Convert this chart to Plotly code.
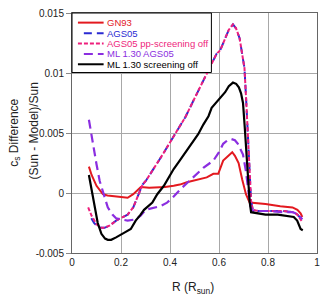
import plotly.graph_objects as go

# ---- data ----
gn93_r = [0.069, 0.08, 0.1, 0.126, 0.145, 0.167, 0.2, 0.227, 0.25, 0.281, 0.315, 0.348, 0.38, 0.415,
          0.44, 0.469, 0.509, 0.55, 0.577, 0.597, 0.617, 0.64, 0.654, 0.665, 0.68, 0.695, 0.71, 0.725,
          0.79, 0.85, 0.9, 0.92, 0.933, 0.94]
gn93_dc = [0.0022, 0.0015, 0.0006, -0.0001, -0.0002, -0.00025, -0.0003, -0.0004, -0.0001, 0.0005, 0.00044,
           0.00045, 0.0005, 0.0006, 0.0007, 0.0009, 0.0011, 0.0013, 0.0016, 0.0016, 0.0027, 0.0031, 0.0034,
           0.0031, 0.0025, 0.0011, -0.0001, -0.0008, -0.00092, -0.0011, -0.0012, -0.0014, -0.0017, -0.002]

ags05_r = [0.079, 0.09, 0.1, 0.12, 0.133, 0.155, 0.18, 0.2, 0.227, 0.25, 0.267, 0.288, 0.301, 0.328, 0.348,
           0.37, 0.395, 0.429, 0.462, 0.496, 0.509, 0.54, 0.57, 0.59, 0.605, 0.624, 0.64, 0.657, 0.67, 0.684,
           0.695, 0.704, 0.711, 0.718, 0.725, 0.731, 0.738, 0.76, 0.8, 0.86, 0.906, 0.92, 0.933, 0.94]
ags05_dc = [-0.0021, -0.0025, -0.0027, -0.0029, -0.0029, -0.0027, -0.0023, -0.0021, -0.0018, -0.0012, -0.0003,
            0.0007, 0.001, 0.0018, 0.0025, 0.0032, 0.004, 0.0052, 0.0063, 0.0077, 0.0082, 0.0095, 0.0108, 0.0116,
            0.0119, 0.0129, 0.0136, 0.01405, 0.0137, 0.0129, 0.0117, 0.0104, 0.0077, 0.0045, 0.0007, -0.0007,
            -0.0014, -0.0015, -0.0015, -0.0015, -0.0016, -0.0018, -0.0021, -0.0023]

ppoff_r = [0.066, 0.08, 0.1, 0.12, 0.133, 0.155, 0.18, 0.2, 0.227, 0.25, 0.267, 0.288, 0.301, 0.328, 0.348,
           0.37, 0.395, 0.429, 0.462, 0.496, 0.509, 0.54, 0.57, 0.59, 0.605, 0.624, 0.64, 0.657, 0.67, 0.684,
           0.695, 0.704, 0.711, 0.718, 0.725, 0.731, 0.738, 0.76, 0.8, 0.86, 0.906, 0.92, 0.933, 0.94]
ppoff_dc = [-0.0012, -0.0019, -0.0026, -0.0029, -0.0029, -0.0027, -0.0023, -0.0021, -0.0018, -0.0012, -0.0003,
            0.0007, 0.001, 0.0018, 0.0025, 0.0032, 0.004, 0.0052, 0.0063, 0.0077, 0.0082, 0.0095, 0.0108, 0.0116,
            0.0119, 0.0129, 0.0136, 0.01405, 0.0137, 0.0129, 0.0117, 0.0104, 0.0077, 0.0045, 0.0007, -0.0007,
            -0.0014, -0.0015, -0.0015, -0.0015, -0.0016, -0.0018, -0.0022, -0.0024]

ml_ags_r = [0.069, 0.078, 0.086, 0.1, 0.113, 0.13, 0.146, 0.165, 0.18, 0.2, 0.227, 0.26, 0.28, 0.301, 0.335,
            0.36, 0.388, 0.41, 0.442, 0.483, 0.51, 0.536, 0.577, 0.6, 0.617, 0.635, 0.65, 0.665, 0.677, 0.69,
            0.698, 0.71, 0.72, 0.728, 0.74, 0.8, 0.86, 0.9, 0.925, 0.94]
ml_ags_dc = [0.0061, 0.005, 0.0038, 0.0024, 0.001, -0.0002, -0.0012, -0.0018, -0.0021, -0.0022, -0.0023,
             -0.0022, -0.0019, -0.0014, -0.0012, -0.0011, -0.0008, -0.0004, 0.0003, 0.0011, 0.0016, 0.0021,
             0.0027, 0.0034, 0.0041, 0.0044, 0.0045, 0.0044, 0.0041, 0.0036, 0.0032, 0.0018, 0.0002, -0.0011,
             -0.0015, -0.0015, -0.0016, -0.0016, -0.0018, -0.0022]

ml_off_r = [0.069, 0.08, 0.093, 0.105, 0.12, 0.135, 0.146, 0.16, 0.18, 0.2, 0.214, 0.24, 0.26, 0.28, 0.294,
            0.328, 0.348, 0.375, 0.395, 0.415, 0.436, 0.456, 0.476, 0.496, 0.515, 0.536, 0.557, 0.57, 0.583,
            0.604, 0.625, 0.64, 0.657, 0.67, 0.681, 0.69, 0.698, 0.705, 0.711, 0.718, 0.725, 0.731, 0.76,
            0.79, 0.84, 0.886, 0.905, 0.919, 0.933, 0.942]
ml_off_dc = [0.0015, 0.0002, -0.0012, -0.0025, -0.0034, -0.0038, -0.0039, -0.0039, -0.0037, -0.0035, -0.0033,
             -0.003, -0.0023, -0.0018, -0.0014, -0.0008, -0.0001, 0.0006, 0.0013, 0.002, 0.0026, 0.0032, 0.0037,
             0.0043, 0.0049, 0.0057, 0.0064, 0.0071, 0.0074, 0.0079, 0.0084, 0.0089, 0.0092, 0.0091, 0.0088,
             0.0083, 0.0075, 0.0055, 0.0035, 0.0015, -0.0007, -0.0016, -0.0017, -0.0018, -0.0018, -0.0019,
             -0.002, -0.0023, -0.003, -0.0031]

series_names = ["GN93", "AGS05", "AGS05 pp-screening off", "ML 1.30 AGS05", "ML 1.30 screening off"]
series_colors = ["#e3191f", "#2a2ad2", "#ee1f7c", "#8b2ee0", "#000000"]
series_dash = ["solid", "8px,5px", "4px,2px", "9px,5px", "solid"]
series_width = [2, 2, 2, 2.2, 2.2]

x_tickvals = [0, 0.2, 0.4, 0.6, 0.8, 1]
x_ticktext = ["0", "0.2", "0.4", "0.6", "0.8", "1"]
y_tickvals = [-0.005, 0, 0.005, 0.01, 0.015]
y_ticktext = ["-0.005", "0", "0.005", "0.01", "0.015"]

xs = [gn93_r, ags05_r, ppoff_r, ml_ags_r, ml_off_r]
ys = [gn93_dc, ags05_dc, ppoff_dc, ml_ags_dc, ml_off_dc]

FONT = "Liberation Sans, Arial, Helvetica, sans-serif"

fig = go.Figure()
for x, y, n, c, d, w in zip(xs, ys, series_names, series_colors, series_dash, series_width):
    fig.add_trace(go.Scatter(x=x, y=y, mode="lines", name=n,
                             line=dict(color=c, dash=d, width=w),
                             showlegend=False, hoverinfo="skip"))

# hand-drawn legend box (compact, like the reference)
shapes = [dict(type="rect", xref="paper", yref="paper", x0=0, x1=0.569, y0=0.752, y1=1.0,
               line=dict(color="#000000", width=1), fillcolor="white", layer="above")]
annotations = []
row_py = [20.7, 31.3, 41.8, 52.3, 62.7]
line_x0 = [78, 84, 78, 84, 78]
for i, (n, c, d) in enumerate(zip(series_names, series_colors, series_dash)):
    yp = (253 - row_py[i]) / 242
    shapes.append(dict(type="line", xref="paper", yref="paper",
                       x0=(line_x0[i] - 72) / 248, x1=(104 - 72) / 248, y0=yp, y1=yp,
                       line=dict(color=c, width=2, dash=d), layer="above"))
    annotations.append(dict(xref="paper", yref="paper", x=(105 - 72) / 248, y=yp, text=n,
                            showarrow=False, xanchor="left", yanchor="middle",
                            font=dict(family=FONT, size=9.5, color=c)))

# axis titles
annotations.append(dict(xref="paper", yref="paper", x=(14 - 72) / 248, y=(253 - 132) / 242,
                        text="c<sub>s</sub> Difference", textangle=-90, showarrow=False,
                        xanchor="center", yanchor="middle", font=dict(family=FONT, size=12, color="#222")))
annotations.append(dict(xref="paper", yref="paper", x=(34 - 72) / 248, y=(253 - 130) / 242,
                        text="(Sun - Model)/Sun", textangle=-90, showarrow=False,
                        xanchor="center", yanchor="middle", font=dict(family=FONT, size=12, color="#222")))
annotations.append(dict(xref="paper", yref="paper", x=(194 - 72) / 248, y=(253 - 288) / 242,
                        text="R (R<sub>sun</sub>)", showarrow=False,
                        xanchor="center", yanchor="middle", font=dict(family=FONT, size=12, color="#222")))

fig.update_layout(
    width=327, height=304,
    margin=dict(l=72, r=7, t=11, b=51),
    paper_bgcolor="white", plot_bgcolor="white",
    font=dict(family=FONT, size=10, color="#222"),
    shapes=shapes, annotations=annotations,
    showlegend=False, hovermode=False,
)
fig.update_xaxes(range=[0, 1], tickvals=x_tickvals, ticktext=x_ticktext,
                 showgrid=True, gridcolor="#a8a8a8", gridwidth=1,
                 showline=True, linecolor="#666", linewidth=1, mirror=True,
                 ticks="", zeroline=False, tickfont=dict(size=10))
fig.update_yaxes(range=[-0.005, 0.015], tickvals=y_tickvals, ticktext=y_ticktext,
                 showgrid=True, gridcolor="#a8a8a8", gridwidth=1,
                 showline=True, linecolor="#666", linewidth=1, mirror=True,
                 ticks="outside", ticklen=5, tickcolor="#888", zeroline=False, tickfont=dict(size=10))

fig.write_html("out.html", config={"displayModeBar": False, "staticPlot": True},
               post_script="document.body.style.margin='0';document.body.style.overflow='hidden';")
